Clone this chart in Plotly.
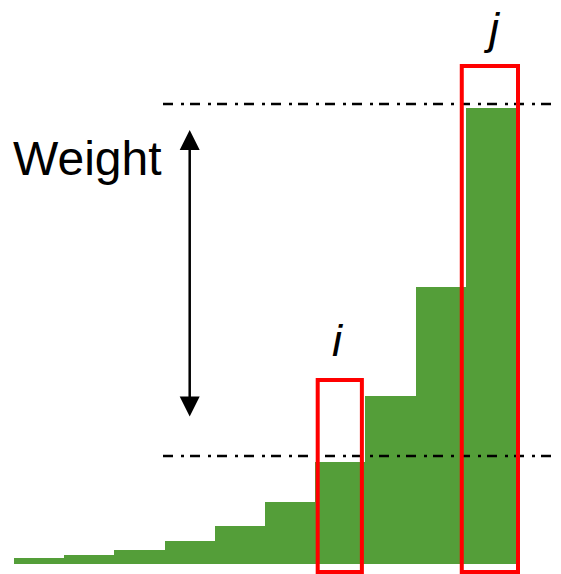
import plotly.graph_objects as go

# Data
bar_index = list(range(10))
bar_values = [6, 9, 14, 23, 38, 62, 102, 168, 277, 456]
highlight_labels = ["i", "j"]
highlight_index = [6, 9]
highlight_tops = [184, 498]
threshold_levels = [108, 460]
weight_label = "Weight"

GREEN = "#549E39"
RED = "#FF0000"
W, H = 561, 574
OFF = 8  # page body margin


def px(xp):
    return (xp - OFF) / W


def py(yp):
    return 1 - (yp - OFF) / H


fig = go.Figure()
fig.add_trace(go.Bar(
    x=bar_index, y=bar_values, width=1.0,
    marker=dict(color=GREEN, line=dict(width=0)),
    hoverinfo="skip", showlegend=False,
))

# dash-dot threshold lines
for lv in threshold_levels:
    fig.add_shape(type="line", xref="paper", yref="y",
                  x0=px(163), x1=px(555), y0=lv, y1=lv,
                  line=dict(color="black", width=2.5, dash="10px,8px,3px,6px"))

# red highlight rectangles
pads = [(0.45, 0.43), (0.58, 0.54)]
for idx, top, (pl, pr) in zip(highlight_index, highlight_tops, pads):
    fig.add_shape(type="rect", xref="x", yref="y",
                  x0=idx - pl, x1=idx + pr, y0=-8, y1=top,
                  line=dict(color=RED, width=4), fillcolor="rgba(0,0,0,0)")

# labels i and j
label_pos = [(338, 340), (492, 28)]
for lab, (lx, ly) in zip(highlight_labels, label_pos):
    fig.add_annotation(xref="paper", yref="paper",
                       x=px(lx), y=py(ly),
                       text="<i>" + lab + "</i>", showarrow=False,
                       xanchor="center", yanchor="middle",
                       font=dict(family="Liberation Sans", size=45, color="black"))

# Weight text
fig.add_annotation(xref="paper", yref="paper", x=px(11), y=py(158),
                   text=weight_label, showarrow=False,
                   xanchor="left", yanchor="middle",
                   font=dict(family="Liberation Sans", size=48, color="black"))

# double-headed arrow
fig.add_annotation(x=3.0, y=434, ax=3.0, ay=146, xref="x", yref="y",
                   axref="x", ayref="y", text="", showarrow=True,
                   arrowhead=2, startarrowhead=2, arrowside="end+start",
                   arrowsize=1.6, startarrowsize=1.6, arrowwidth=2.5,
                   arrowcolor="black", standoff=0, startstandoff=0)

fig.update_layout(
    width=W, height=H,
    margin=dict(l=0, r=0, t=0, b=0),
    paper_bgcolor="white", plot_bgcolor="white",
    bargap=0,
    xaxis=dict(range=[-0.6195, 10.556], visible=False, fixedrange=True),
    yaxis=dict(range=[-18, 556], visible=False, fixedrange=True),
    showlegend=False,
)

fig.write_html("out.html")
